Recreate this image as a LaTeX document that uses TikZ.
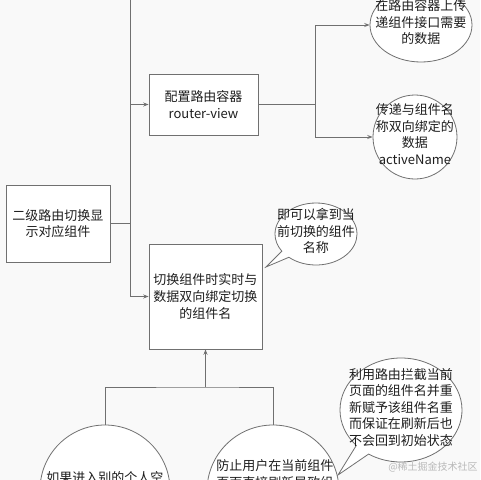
\documentclass[tikz,border=0pt]{standalone}
\usepackage{fontspec}
\setmainfont{Noto Sans CJK SC}
\usetikzlibrary{arrows.meta,shapes.geometric,shapes.callouts}
\definecolor{bgcol}{RGB}{249,249,249}
\definecolor{linecol}{RGB}{112,112,112}
\definecolor{txtcol}{RGB}{30,30,30}
% text of a bubble, kept out of the shape size
\newcommand{\bubtxt}[1]{\makebox[0pt]{\raisebox{-3.6pt}{\smash{\begin{tabular}{@{}c@{}}#1\end{tabular}}}}}
\tikzset{every picture/.style={line width=0.75pt}}
\tikzset{
  box/.style={draw=linecol, fill=white, line width=0.6pt, inner sep=0pt, align=center, text=txtcol, font=\fontsize{9.75}{12.4}\selectfont},
  bubble/.style={ellipse, draw=linecol, fill=white, line width=0.6pt, inner sep=0pt, text=txtcol, font=\fontsize{9.75}{12.4}\selectfont},
  talk/.style={ellipse callout, draw=linecol, fill=white, line width=0.6pt, inner sep=0pt, text=txtcol, font=\fontsize{9.75}{12.4}\selectfont},
  txt/.style={text=txtcol, align=center, inner sep=0pt, font=\fontsize{9.75}{12.4}\selectfont},
  link/.style={draw=linecol, line width=0.6pt},
  arr/.style={link, -{Stealth[length=4pt,width=3pt]}},
}
\begin{document}
\begin{tikzpicture}[x=0.75pt,y=0.75pt,yscale=-1,xscale=1]
\useasboundingbox (0,0) rectangle (480,480);
\clip (0,0) rectangle (480,480);
\fill[bgcol] (0,0) rectangle (480,480);

% Text Node
\node[box, minimum width=78pt, minimum height=57.75pt] (main) at (58,223.5) {二级路由切换显\\示对应组件};
% Text Node
\node[box, minimum width=81.75pt, minimum height=45.75pt] (router) at (203.5,104.5) {配置路由容器\\router-view};
% Text Node
\node[box, minimum width=84.75pt, minimum height=78.75pt] (switch) at (205.5,296.5) {切换组件时实时与\\数据双向绑定切换\\的组件名};

% Ellipse
\node[bubble, minimum width=76.5pt, minimum height=55.5pt] (pass) at (421,25) {\bubtxt{在路由容器上传\\递组件接口需要\\的数据}};
% Ellipse
\node[bubble, minimum width=63pt, minimum height=63pt] (bind) at (415,137) {\bubtxt{传递与组件名\\称双向绑定的\\数据\\activeName}};

% Callout
\node[talk, minimum width=61.5pt, minimum height=46.5pt, callout absolute pointer={(266,267)}] (getname) at (316,234) {\bubtxt{即可以拿到当\\前切换的组件\\名称}};
% Callout
\node[talk, minimum width=91.5pt, minimum height=78pt, callout absolute pointer={(338,475)}] (guard) at (401,410) {\bubtxt{利用路由拦截当前\\页面的组件名并重\\新赋予该组件名重\\而保证在刷新后也\\不会回到初始状态}};

% Ellipse
\node[bubble, minimum width=97.5pt, minimum height=97.5pt] (other) at (105,490) {};
\node[txt] (othertxt) at (105,478) {如果进入别的个人空};
% Ellipse
\node[bubble, minimum width=99pt, minimum height=99pt] (reload) at (273,491) {};
\node[txt] (reloadtxt) at (275,474) {防止用户在当前组件\\页面直接刷新导致组};

% Straight Lines
\coordinate (trunk) at (130,-2);
\coordinate (fork) at (315,104.5);
\coordinate (join) at (205.5,387);
\draw[link] (main.east) -- (main.east -| trunk);
\draw[arr] (trunk) |- (router.west);
\draw[arr] (trunk) |- (switch.west);
\draw[link] (router.east) -- (fork);
\draw[arr] (fork) |- (pass.west);
\draw[arr] (fork) |- (bind.west);
\draw[link] (other.north) |- (join) -| (reload.north);
\draw[arr] (join) -- (switch.south);

% Text Node
\node[text=gray!55, font=\fontsize{7.5}{9}\selectfont] (mark) at (433,467) {@稀土掘金技术社区};

\end{tikzpicture}
\end{document}
